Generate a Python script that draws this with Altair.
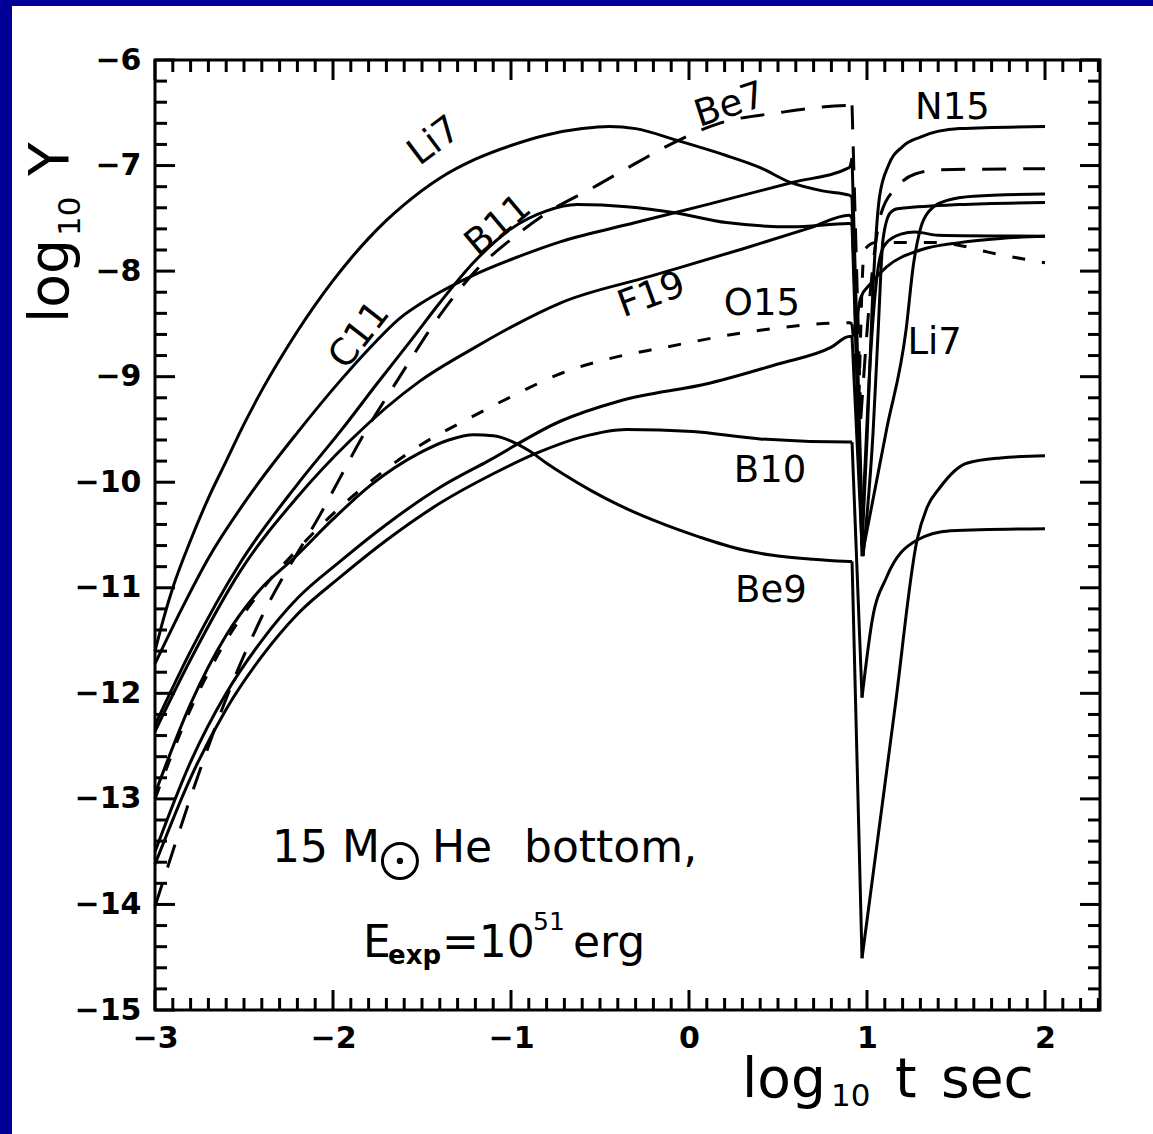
import altair as alt
import pandas as pd

# ---------------- data ----------------
li7_x = [-3.0, -2.95, -2.9, -2.8, -2.7, -2.6, -2.5, -2.4, -2.3, -2.2, -2.1, -2.0, -1.9, -1.8, -1.7, -1.6, -1.4, -1.2, -1.0, -0.8, -0.6, -0.45, -0.3, -0.07, 0.2, 0.4, 0.57, 0.75, 0.9, 0.916,
         0.972, 1.11, 1.22, 1.26, 1.30, 1.35, 1.45, 1.6, 2.0]
li7_y = [-11.6, -11.28, -11.0, -10.55, -10.15, -9.8, -9.45, -9.13, -8.84, -8.57, -8.32, -8.09, -7.88, -7.69, -7.52, -7.37, -7.12, -6.94, -6.81, -6.71, -6.65, -6.63, -6.65, -6.76, -6.9, -7.02, -7.16, -7.24, -7.28, -7.3,
         -10.7, -9.5, -8.55, -7.95, -7.6, -7.43, -7.33, -7.29, -7.27]

c11_x = [-3.0, -2.85, -2.7, -2.45, -2.2, -1.96, -1.8, -1.62, -1.5, -1.4, -1.2, -1.0, -0.72, -0.3, 0.1, 0.58, 0.9, 0.916,
         0.978, 1.034, 1.062, 1.09, 1.13, 1.17, 1.52, 2.0]
c11_y = [-11.72, -11.2, -10.72, -10.08, -9.53, -9.04, -8.74, -8.44, -8.3, -8.2, -8.03, -7.89, -7.72, -7.54, -7.37, -7.16, -7.02, -6.93,
         -10.7, -9.53, -8.59, -7.7, -7.45, -7.41, -7.37, -7.35]

b11_x = [-3.0, -2.8, -2.52, -2.2, -1.95, -1.75, -1.55, -1.4, -1.2, -1.0, -0.8, -0.63, -0.35, -0.07, 0.21, 0.58, 0.9, 0.916,
         0.972, 1.02, 1.06, 1.10, 1.19, 1.27, 1.4, 2.0]
b11_y = [-12.3, -11.6, -10.76, -10.02, -9.5, -9.06, -8.63, -8.3, -7.9, -7.6, -7.43, -7.37, -7.39, -7.45, -7.54, -7.58, -7.55, -7.56,
         -10.5, -8.8, -8.0, -7.75, -7.65, -7.63, -7.66, -7.67]

f19_x = [-3.0, -2.8, -2.52, -2.2, -1.9, -1.51, -1.2, -1.0, -0.72, -0.22, 0.3, 0.68, 0.9, 0.916,
         0.94, 0.965, 1.02, 1.11, 1.30, 1.52, 1.75, 2.0]
f19_y = [-12.36, -11.68, -10.84, -10.14, -9.6, -9.04, -8.72, -8.53, -8.3, -8.05, -7.79, -7.59, -7.47, -7.5,
         -8.5, -8.25, -8.12, -7.96, -7.80, -7.73, -7.69, -7.67]

be9_x = [-3.0, -2.8, -2.6, -2.4, -2.22, -2.0, -1.79, -1.51, -1.35, -1.21, -1.1, -1.0, -0.9, -0.8, -0.7, -0.55, -0.39, -0.2, 0.06, 0.3, 0.46, 0.7, 0.9, 0.916,
         0.972, 1.157, 1.281, 1.337, 1.41, 1.56, 1.75, 2.0]
be9_y = [-12.95, -12.1, -11.45, -11.0, -10.72, -10.35, -10.03, -9.72, -9.6, -9.55, -9.56, -9.61, -9.7, -9.82, -9.93, -10.08, -10.22, -10.36, -10.52, -10.64, -10.69, -10.73, -10.75, -10.75,
         -14.51, -12.14, -10.55, -10.24, -10.05, -9.82, -9.77, -9.75]

b10_x = [-3.0, -2.8, -2.6, -2.4, -2.2, -1.96, -1.7, -1.4, -1.1, -0.85, -0.6, -0.35, 0.02, 0.4, 0.9, 0.916,
         0.972, 1.03, 1.11, 1.28, 1.47, 2.0]
b10_y = [-13.62, -12.8, -12.15, -11.65, -11.25, -10.9, -10.55, -10.2, -9.92, -9.72, -9.57, -9.5, -9.52, -9.59, -9.62, -9.62,
         -12.04, -11.3, -10.9, -10.55, -10.46, -10.44]

n15_x = [-3.0, -2.8, -2.6, -2.4, -2.2, -1.96, -1.7, -1.4, -1.13, -0.72, -0.39, 0.12, 0.5, 0.8, 0.9, 0.916,
         0.972, 1.0, 1.03, 1.07, 1.12, 1.2, 1.3, 1.52, 2.0]
n15_y = [-13.5, -12.65, -12.0, -11.5, -11.1, -10.75, -10.4, -10.05, -9.8, -9.42, -9.23, -9.06, -8.88, -8.72, -8.62, -8.62,
         -10.6, -9.6, -8.3, -7.3, -7.0, -6.82, -6.73, -6.65, -6.63]

be7_x = [-3.0, -2.92, -2.75, -2.56, -2.41, -2.07, -1.79, -1.64, -1.4, -1.2, -1.0, -0.8, -0.54, -0.29, -0.07, 0.17, 0.5, 0.9, 0.916,
         0.965, 1.03, 1.08, 1.17, 1.27, 1.41, 2.0]
be7_y = [-14.02, -13.6, -12.74, -11.88, -11.31, -10.3, -9.44, -9.04, -8.42, -8.0, -7.7, -7.45, -7.21, -6.97, -6.77, -6.6, -6.5, -6.43, -6.43,
         -9.4, -8.0, -7.45, -7.2, -7.08, -7.04, -7.03]

o15_x = [-3.0, -2.8, -2.6, -2.4, -2.19, -2.0, -1.78, -1.51, -1.23, -1.0, -0.72, -0.4, -0.16, 0.4, 0.9, 0.916,
         0.955, 0.985, 1.05, 1.4, 1.5, 1.68, 1.93, 2.0]
o15_y = [-13.0, -12.15, -11.5, -11.02, -10.62, -10.3, -9.98, -9.65, -9.39, -9.19, -8.97, -8.81, -8.73, -8.56, -8.49, -8.5,
         -9.2, -7.8, -7.73, -7.73, -7.75, -7.82, -7.9, -7.92]

solid_curves = {"Li7": (li7_x, li7_y), "C11": (c11_x, c11_y), "B11": (b11_x, b11_y),
                "F19": (f19_x, f19_y), "Be9": (be9_x, be9_y), "B10": (b10_x, b10_y),
                "N15": (n15_x, n15_y)}

label_text = ["Li7", "Be7", "B11", "C11", "F19", "O15", "N15", "Li7", "B10", "Be9"]
label_x = [-1.43, 0.23, -1.07, -1.85, -0.21, 0.41, 1.48, 1.38, 0.455, 0.46]
label_y = [-6.77, -6.43, -7.57, -8.61, -8.23, -8.31, -6.45, -8.68, -9.89, -11.03]
label_angle = [323, 342, 320, 308, 340, 0, 0, 0, 0, 0]

x_tick_labels = [-3, -2, -1, 0, 1, 2]
y_tick_labels = [-15, -14, -13, -12, -11, -10, -9, -8, -7, -6]

XMIN, XMAX, YMIN, YMAX = -3.0, 2.309, -15.0, -6.0
W, H = 945, 950
PXX = W / (XMAX - XMIN)
PXY = H / (YMAX - YMIN)
FONT = "DejaVu Sans"
DROP_X = 0.916

xs = alt.Scale(domain=[XMIN, XMAX], nice=False, zero=False)
ys = alt.Scale(domain=[YMIN, YMAX], nice=False, zero=False)


def frame(rows, cols):
    return pd.DataFrame(rows, columns=cols)


def split_curve(cx, cy):
    """Split a curve into smooth part, near-vertical drop (linear) and recovery."""
    i_drop = cx.index(DROP_X)
    after = [k for k in range(i_drop + 1, len(cx)) if cx[k] < 1.0]
    i_bot = min(after, key=lambda k: cy[k])
    return [("a", list(range(0, i_drop + 1))),
            ("b", list(range(i_drop, i_bot + 1))),
            ("c", list(range(i_bot, len(cx))))]


def curve_df(curves, pieces):
    rows = []
    for name, (cx, cy) in curves.items():
        for piece, idx in split_curve(cx, cy):
            if piece not in pieces:
                continue
            for j, k in enumerate(idx):
                rows.append((name + piece, j, cx[k], cy[k]))
    return frame(rows, ["name", "i", "x", "y"])


xax = alt.Axis(values=x_tick_labels, format="d", ticks=False, tickSize=0, domain=False, grid=False, title=None,
               labelFont=FONT, labelFontSize=30, labelFontWeight="bold", labelColor="black", labelPadding=13,
               labelFlush=False, zindex=1)
yax = alt.Axis(values=y_tick_labels, format="d", ticks=False, tickSize=0, domain=False, grid=False, title=None,
               labelFont=FONT, labelFontSize=30, labelFontWeight="bold", labelColor="black", labelPadding=14,
               labelFlush=False, zindex=1)


def line_layer(curves, pieces, interp, dash=None, axes=False):
    kw = dict(color="black", strokeWidth=3, interpolate=interp, strokeJoin="round")
    if dash:
        kw["strokeDash"] = dash
    if axes:
        enc_x = alt.X("x:Q", scale=xs, axis=xax)
        enc_y = alt.Y("y:Q", scale=ys, axis=yax)
    else:
        enc_x = alt.X("x:Q", scale=xs)
        enc_y = alt.Y("y:Q", scale=ys)
    return alt.Chart(curve_df(curves, pieces)).mark_line(**kw).encode(
        x=enc_x, y=enc_y, detail="name:N", order="i:Q")


be7_c = {"Be7": (be7_x, be7_y)}
o15_c = {"O15": (o15_x, o15_y)}
curve_layers = [
    line_layer(solid_curves, ("a", "c"), "monotone", axes=True),
    line_layer(solid_curves, ("b",), "linear"),
    line_layer(be7_c, ("a", "c"), "monotone", dash=[24, 17]),
    line_layer(be7_c, ("b",), "linear", dash=[24, 17]),
    line_layer(o15_c, ("a", "c"), "monotone", dash=[13, 17]),
    line_layer(o15_c, ("b",), "linear", dash=[13, 17]),
]

# ---- inward ticks on all four sides ----
xt = [round(-3.0 + 0.1 * k, 2) for k in range(54)]
yt = [round(-15.0 + 0.2 * k, 2) for k in range(46)]


def tlen(v, major_px=20, minor_px=12):
    return major_px if abs(v - round(v)) < 1e-6 else minor_px


bt = frame([(v, YMIN, YMIN + tlen(v) / PXY) for v in xt], ["x", "y", "y2"])
tt = frame([(v, YMAX, YMAX - tlen(v) / PXY) for v in xt], ["x", "y", "y2"])
lt = frame([(XMIN, XMIN + tlen(v) / PXX, v) for v in yt], ["x", "x2", "y"])
rt = frame([(XMAX, XMAX - tlen(v) / PXX, v) for v in yt], ["x", "x2", "y"])

tick_layers = []
for d in (bt, tt):
    tick_layers.append(alt.Chart(d).mark_rule(color="black", strokeWidth=3).encode(
        x=alt.X("x:Q", scale=xs), y=alt.Y("y:Q", scale=ys), y2="y2:Q"))
for d in (lt, rt):
    tick_layers.append(alt.Chart(d).mark_rule(color="black", strokeWidth=3).encode(
        x=alt.X("x:Q", scale=xs), x2="x2:Q", y=alt.Y("y:Q", scale=ys)))

# ---- curve labels ----
lab_layers = []
for t, lx, ly, la in zip(label_text, label_x, label_y, label_angle):
    lab_layers.append(alt.Chart(frame([(lx, ly, t)], ["x", "y", "t"])).mark_text(
        font=FONT, fontSize=37, color="black", align="center", baseline="middle", angle=la
    ).encode(x=alt.X("x:Q", scale=xs), y=alt.Y("y:Q", scale=ys), text="t:N"))

# ---- annotation text (data coordinates) ----
ann = [
    ("15 M", -2.343, -13.598, 44, "normal"),
    ("He", -1.444, -13.598, 44, "normal"),
    ("bottom,", -0.927, -13.598, 44, "normal"),
    ("E", -1.831, -14.497, 44, "normal"),
    ("exp", -1.691, -14.56, 26, "bold"),
    ("=10", -1.388, -14.497, 44, "normal"),
    ("51", -0.876, -14.24, 25, "normal"),
    ("erg", -0.652, -14.497, 44, "normal"),
]
for t, ax_, ay_, fs, fw in ann:
    lab_layers.append(alt.Chart(frame([(ax_, ay_, t)], ["x", "y", "t"])).mark_text(
        font=FONT, fontSize=fs, fontWeight=fw, color="black", align="left", baseline="alphabetic"
    ).encode(x=alt.X("x:Q", scale=xs), y=alt.Y("y:Q", scale=ys), text="t:N"))

sun = frame([(-1.624, -13.588)], ["x", "y"])
sun_ring = alt.Chart(sun).mark_point(shape="circle", size=1225, filled=False, color="black",
                                     strokeWidth=3, opacity=1).encode(
    x=alt.X("x:Q", scale=xs), y=alt.Y("y:Q", scale=ys))
sun_dot = alt.Chart(sun).mark_point(shape="circle", size=40, filled=True, color="black",
                                    opacity=1).encode(
    x=alt.X("x:Q", scale=xs), y=alt.Y("y:Q", scale=ys))

# ---- axis titles (placed in pixels, relative to the plot origin) ----
one = pd.DataFrame({"a": [0]})


def ptext(t, px, py, fs, angle=0):
    return alt.Chart(one).mark_text(
        text=t, font=FONT, fontSize=fs, color="black", align="left", baseline="alphabetic", angle=angle
    ).encode(x=alt.value(px), y=alt.value(py))


titles = [
    ptext("log", 587, 1037, 55), ptext("10", 676, 1046, 31),
    ptext("t", 740, 1037, 55), ptext("sec", 786, 1037, 55),
    ptext("log", -87, 263, 55, 270), ptext("10", -75, 176, 31, 270),
    ptext("Y", -87, 116, 55, 270),
]

# ---- blue page strips (top and left) ----
blue = "#000099"
strips = [
    alt.Chart(one).mark_rect(color=blue).encode(
        x=alt.value(-155), x2=alt.value(-143), y=alt.value(-60), y2=alt.value(1074)),
    alt.Chart(one).mark_rect(color=blue).encode(
        x=alt.value(-155), x2=alt.value(998), y=alt.value(-60), y2=alt.value(-54)),
]

chart = alt.layer(
    *curve_layers, *tick_layers, *lab_layers, sun_ring, sun_dot, *titles, *strips
).properties(
    width=W, height=H,
    autosize=alt.AutoSizeParams(type="none"),
    padding={"left": 155, "top": 60, "right": 53, "bottom": 124},
    background="white",
).configure_view(stroke="black", strokeWidth=3)

chart.save("out.html", embed_options={"renderer": "svg", "actions": False})
